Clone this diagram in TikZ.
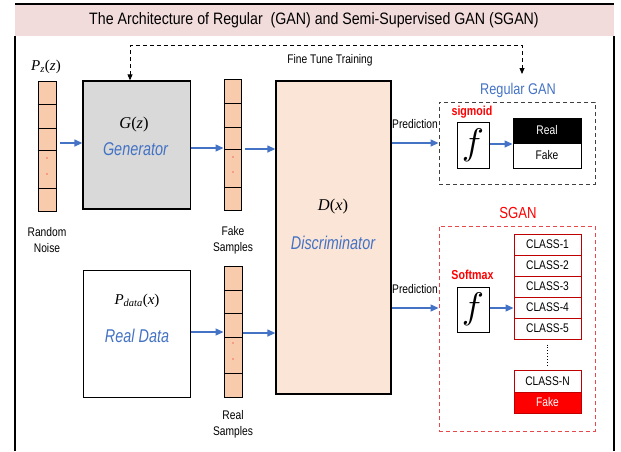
\documentclass[tikz,border=0pt]{standalone}
\usepackage{fontspec}
\setmainfont{Liberation Serif}
\setsansfont{Liberation Sans}
\newfontfamily\narrowsans{Liberation Sans}[FakeStretch=0.82]
\newfontfamily\titlesans{Liberation Sans}[FakeStretch=0.86]
\newfontfamily\narrowit{Liberation Sans Italic}[FakeStretch=0.78]
\usetikzlibrary{arrows.meta}
\definecolor{bluearr}{HTML}{4472C4}
\definecolor{peach}{HTML}{F8CBAD}
\definecolor{dfill}{HTML}{FBE5D6}
\definecolor{gfill}{HTML}{D9D9D9}
\definecolor{pinkband}{HTML}{F2DCDB}
\definecolor{dkred}{HTML}{C00000}
\definecolor{sganred}{HTML}{E8474C}
\tikzset{
  colbox/.style={draw=black, line width=1pt, fill=peach, minimum width=18pt, inner sep=0pt},
  cellline/.style={line width=1pt},
  bigbox/.style={draw=black, line width=1.3pt, inner sep=0pt},
  arr/.style={draw=bluearr, line width=1.3pt, -{Triangle[length=8pt,width=7pt]}},
  ft/.style={draw=black, line width=0.8pt, dash pattern=on 4pt off 3pt, {Triangle[length=6pt,width=5pt]}-{Triangle[length=6pt,width=5pt]}},
  lbl/.style={font=\narrowsans\fontsize{12.5}{14}\selectfont, inner sep=0pt},
  lbltwo/.style={font=\narrowsans\fontsize{12.5}{16}\selectfont, align=center, inner sep=0pt},
  bluetxt/.style={font=\narrowit\fontsize{18.5}{20}\selectfont, text=bluearr, inner sep=0pt},
  mathtxt/.style={font=\fontsize{16.5}{18}\selectfont, inner sep=0pt},
  fbox/.style={draw=black, line width=1pt, fill=white, inner sep=0pt, minimum width=32pt},
  outbox/.style={draw=black, line width=0.9pt, inner sep=0pt, minimum width=68pt, font=\narrowsans\fontsize{12.5}{14}\selectfont},
  clsbox/.style={draw=dkred, line width=1pt, fill=white, inner sep=0pt, minimum width=67pt, minimum height=21pt, font=\narrowsans\fontsize{12.5}{14}\selectfont},
  dot/.style={circle, fill=red, inner sep=0pt, minimum size=1.2pt},
}
\begin{document}
\begin{tikzpicture}[x=1pt,y=-1pt]
\useasboundingbox (0,0) rectangle (621,451);
% frame
\fill[pinkband] (15,4) rectangle (614,36);
\draw[line width=1.3pt] (15,451) -- (15,36);
\draw[line width=1.3pt] (614,451) -- (614,36);
\draw[line width=1.3pt] (15,4) -- (614,4);
\node[font=\titlesans\fontsize{16.5}{18}\selectfont, inner sep=0pt] (title) at (314,20) {The Architecture of Regular\ \ (GAN) and Semi-Supervised GAN (SGAN)};

% noise column
\node[mathtxt, font=\fontsize{15}{16}\selectfont] (pz) at (46,67) {\textit{P}\textsubscript{\textit{z}}(\textit{z})};
\node[colbox, minimum height=130pt] (noise) at (47,146) {};
\foreach \yy in {104,128,150,188} \draw[cellline] (noise.west |- 0,\yy) -- (noise.east |- 0,\yy);
\node[dot] (nd1) at (47,158) {};
\node[dot] (nd2) at (47,174) {};
\node[lbltwo] (noiselbl) at (47,240) {Random\\Noise};

% generator
\node[bigbox, fill=gfill, minimum width=107.5pt, minimum height=128pt] (G) at (136.75,145) {};
\node[mathtxt] (Gz) at (134,125) {\textit{G}(\textit{z})};
\node[bluetxt] (Gen) at (135.5,149) {Generator};

% fake samples column
\node[colbox, minimum width=17pt, minimum height=131pt] (fake) at (232.5,144.5) {};
\foreach \yy in {103,127,149,187} \draw[cellline] (fake.west |- 0,\yy) -- (fake.east |- 0,\yy);
\node[dot] (fd1) at (233,157) {};
\node[dot] (fd2) at (233,172) {};
\node[lbltwo] (fakelbl) at (233,240) {Fake\\Samples};

% real data
\node[draw=black, line width=1pt, fill=white, inner sep=0pt, minimum width=107pt, minimum height=127pt] (RD) at (136.5,333.5) {};
\node[mathtxt, font=\fontsize{15}{16}\selectfont] (Pd) at (137,301) {\textit{P}\textsubscript{\textit{data}}(\textit{x})};
\node[bluetxt] (RDt) at (137,336) {Real Data};

% real samples column
\node[colbox, minimum height=131pt] (rs) at (233,331.5) {};
\foreach \yy in {290,313,337,373} \draw[cellline] (rs.west |- 0,\yy) -- (rs.east |- 0,\yy);
\node[dot] (rd1) at (233,343) {};
\node[dot] (rd2) at (233,359) {};
\node[lbltwo] (rslbl) at (233,424.5) {Real\\Samples};

% discriminator
\node[bigbox, fill=dfill, minimum width=115pt, minimum height=313pt] (D) at (333.5,237.5) {};
\node[mathtxt] (Dx) at (333,207) {\textit{D}(\textit{x})};
\node[bluetxt] (Disc) at (333,243) {Discriminator};

% fine tune training
\node[lbl] (ftl) at (330,60) {Fine Tune Training};
\coordinate (ftend) at (522,74);
\draw[ft] ([xshift=-6.75pt]G.north) -- ++(0,-35) -| (ftend);

% regular GAN
\node[font=\narrowsans\fontsize{15.5}{17}\selectfont, text=bluearr, inner sep=0pt] (regt) at (518,90) {Regular GAN};
\node[draw=black!75, line width=0.9pt, dash pattern=on 4pt off 3pt, minimum width=156pt, minimum height=82pt, inner sep=0pt] (reg) at (517,143) {};
\node[font=\narrowsans\bfseries\fontsize{13}{14}\selectfont, text=red, inner sep=0pt] (sig) at (472,112) {sigmoid};
\node[fbox, minimum height=46pt] (rf) at (473,145) {\scalebox{3.7}{$f$}};
\node[outbox, fill=black, text=white, minimum height=25pt] (real) at (547,130.5) {Real};
\node[outbox, fill=white, minimum height=25pt] (fk) at (547,155.5) {Fake};

% SGAN
\node[font=\narrowsans\fontsize{16}{17}\selectfont, text=red, inner sep=0pt] (sgt) at (518,213) {SGAN};
\node[draw=sganred, line width=0.9pt, dash pattern=on 4pt off 3pt, minimum width=156pt, minimum height=205pt, inner sep=0pt] (sgan) at (517,328.5) {};
\node[font=\narrowsans\bfseries\fontsize{13}{14}\selectfont, text=red, inner sep=0pt] (soft) at (472.5,275) {Softmax};
\node[fbox, minimum height=45pt] (sf) at (473,309.5) {\scalebox{3.7}{$f$}};
\node[clsbox] (c1) at (547.5,244.5) {CLASS-1};
\node[clsbox] (c2) at (547.5,265.5) {CLASS-2};
\node[clsbox] (c3) at (547.5,286.5) {CLASS-3};
\node[clsbox] (c4) at (547.5,307.5) {CLASS-4};
\node[clsbox] (c5) at (547.5,328.5) {CLASS-5};
\node[clsbox, minimum height=22pt] (cn) at (547.5,381) {CLASS-N};
\node[clsbox, fill=red, text=white] (cf) at (547.5,402.5) {Fake};
\draw[line width=0.9pt, dotted] ([yshift=-5pt]c5.south) -- ([yshift=4pt]cn.north);

% predictions
\node[lbl] (pr1) at (415,124) {Prediction};
\node[lbl] (pr2) at (415,289) {Prediction};

% connectors
\draw[arr] ([xshift=3pt]noise.east |- 0,143) -- (G.west |- 0,143);
\draw[arr] (G.east |- 0,148) -- (fake.west |- 0,148);
\draw[arr] ([xshift=3pt]fake.east |- 0,149) -- (D.west |- 0,149);
\draw[arr] (RD.east |- 0,332) -- (rs.west |- 0,332);
\draw[arr] (rs.east |- 0,333) -- (D.west |- 0,333);
\draw[arr] (D.east |- 0,143) -- (reg.west |- 0,143);
\draw[arr] (D.east |- 0,308) -- (sgan.west |- 0,308);
\draw[arr] (rf.east |- 0,144) -- (real.west |- 0,144);
\draw[arr] (sf.east |- 0,308) -- (c4.west |- 0,308);
\end{tikzpicture}
\end{document}
